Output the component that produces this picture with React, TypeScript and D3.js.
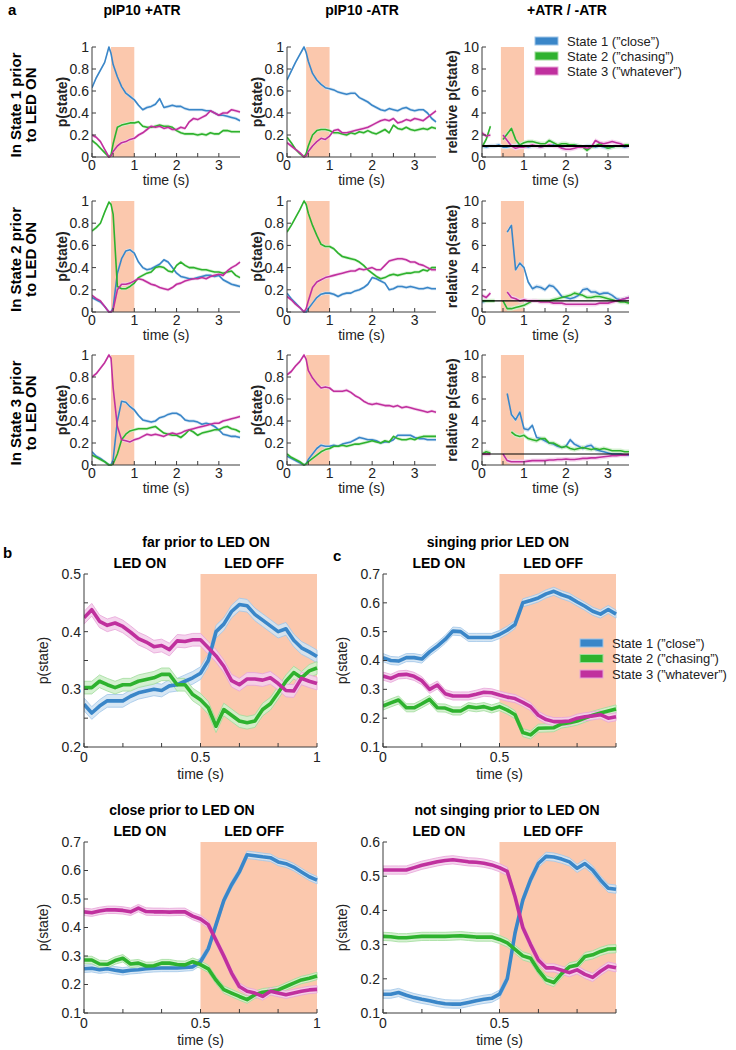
import React from "react";
import * as d3 from "d3";

const FONT = "'Liberation Sans', Arial, Helvetica, sans-serif";
const BLUE = "#3a86c8";
const GREEN = "#2eb22e";
const MAGENTA = "#c0309e";
const BLUE_BAND = "#d3e4f3";
const GREEN_BAND = "#d0efcc";
const MAGENTA_BAND = "#f4d0ec";
const BLUE_EDGE = "#9fc5e8";
const GREEN_EDGE = "#9fdc9a";
const MAGENTA_EDGE = "#e7a3d8";
const SHADE = "#fbc8ad";
const AXIS = "#3c3c3c";

const STATE_NAMES = [
  "State 1 (\u201Dclose\u201D)",
  "State 2 (\u201Dchasing\u201D)",
  "State 3 (\u201Dwhatever\u201D)",
];

// ---------- panel a : time grid (s) ----------
const T_A = [0, 0.1, 0.2, 0.3, 0.4, 0.45, 0.5, 0.6, 0.7, 0.8, 0.9, 1.0, 1.1, 1.2, 1.3, 1.4, 1.5, 1.6, 1.7, 1.8, 1.9, 2.0, 2.1, 2.2, 2.3, 2.4, 2.5, 2.6, 2.7, 2.8, 2.9, 3.0, 3.1, 3.2, 3.3, 3.4, 3.5];

// Row 1: in State 1 prior to LED ON
const B1P = [0.63,0.72,0.79,0.86,1.0,0.94,0.84,0.73,0.64,0.58,0.55,0.52,0.47,0.43,0.45,0.46,0.48,0.53,0.45,0.46,0.47,0.46,0.46,0.44,0.43,0.43,0.43,0.43,0.42,0.42,0.40,0.38,0.38,0.37,0.36,0.35,0.33];
const G1P = [0.15,0.12,0.08,0.04,0.0,0.02,0.12,0.27,0.29,0.30,0.31,0.31,0.32,0.28,0.27,0.27,0.28,0.29,0.28,0.28,0.27,0.24,0.22,0.21,0.21,0.21,0.20,0.21,0.20,0.22,0.21,0.21,0.24,0.24,0.23,0.23,0.23];
const M1P = [0.2,0.18,0.14,0.07,0.0,0.01,0.05,0.10,0.13,0.14,0.16,0.17,0.20,0.22,0.25,0.28,0.27,0.28,0.26,0.27,0.25,0.25,0.27,0.26,0.32,0.35,0.34,0.36,0.38,0.42,0.40,0.38,0.40,0.40,0.43,0.42,0.41];
const B1M = [0.70,0.78,0.86,0.93,1.0,0.95,0.87,0.76,0.70,0.66,0.63,0.62,0.61,0.59,0.58,0.57,0.58,0.58,0.54,0.52,0.50,0.47,0.45,0.43,0.42,0.44,0.43,0.42,0.44,0.45,0.43,0.42,0.43,0.43,0.40,0.35,0.32];
const G1M = [0.18,0.13,0.07,0.03,0.0,0.03,0.10,0.20,0.24,0.25,0.25,0.24,0.22,0.22,0.21,0.20,0.22,0.21,0.23,0.22,0.24,0.22,0.21,0.23,0.25,0.22,0.29,0.26,0.25,0.27,0.25,0.24,0.25,0.26,0.25,0.27,0.26];
const M1M = [0.13,0.10,0.07,0.04,0.0,0.01,0.05,0.10,0.14,0.17,0.16,0.19,0.24,0.25,0.22,0.22,0.23,0.24,0.25,0.26,0.27,0.29,0.31,0.33,0.34,0.33,0.35,0.31,0.32,0.34,0.33,0.35,0.34,0.33,0.36,0.39,0.42];
const B1R = [1.0,0.9,1.0,1.0,1.1,1.0,0.9,0.9,1.0,1.0,1.1,1.0,0.9,1.0,1.0,0.9,1.0,1.0,1.1,1.0,0.9,1.0,1.0,1.1,1.0,0.9,1.0,1.0,0.9,1.0,0.9,0.8,0.9,1.0,1.0,0.9,1.0];
const G1R = [0.9,1.6,2.8,null,null,null,1.6,2.1,2.6,1.6,1.1,1.3,1.4,1.4,1.3,1.2,1.2,1.5,1.3,1.1,1.2,1.2,1.1,1.1,1.0,0.9,0.6,0.9,1.0,1.2,1.0,0.8,0.9,1.0,1.0,1.1,1.1];
const M1R = [2.2,1.9,2.0,null,null,null,2.0,1.5,1.0,0.8,0.9,0.9,1.0,1.1,1.0,0.9,1.0,1.1,1.0,1.0,0.8,0.7,0.7,0.8,0.9,0.9,0.8,0.9,1.5,1.3,1.2,1.3,1.4,1.3,1.2,1.0,1.0];

// Row 2: in State 2 prior to LED ON
const B2P = [0.13,0.11,0.09,0.05,0.0,0.0,0.04,0.35,0.48,0.55,0.56,0.53,0.45,0.40,0.38,0.39,0.41,0.43,0.47,0.45,0.40,0.35,0.32,0.31,0.30,0.30,0.31,0.32,0.33,0.33,0.32,0.33,0.29,0.27,0.25,0.24,0.23];
const G2P = [0.73,0.76,0.80,0.90,0.99,0.97,0.88,0.23,0.21,0.21,0.23,0.26,0.31,0.33,0.35,0.36,0.40,0.41,0.40,0.37,0.36,0.42,0.45,0.42,0.40,0.40,0.39,0.38,0.38,0.37,0.36,0.36,0.35,0.36,0.37,0.33,0.31];
const M2P = [0.15,0.12,0.10,0.05,0.0,0.0,0.02,0.20,0.25,0.25,0.26,0.28,0.30,0.29,0.27,0.25,0.24,0.22,0.21,0.20,0.22,0.25,0.26,0.28,0.29,0.30,0.30,0.31,0.30,0.32,0.33,0.34,0.33,0.37,0.40,0.42,0.45];
const B2M = [0.17,0.12,0.08,0.04,0.0,0.0,0.03,0.08,0.13,0.16,0.17,0.17,0.16,0.14,0.16,0.17,0.17,0.19,0.20,0.22,0.25,0.31,0.30,0.28,0.26,0.20,0.21,0.23,0.23,0.22,0.23,0.22,0.21,0.21,0.22,0.21,0.21];
const G2M = [0.72,0.78,0.85,0.92,1.0,0.97,0.89,0.78,0.69,0.61,0.59,0.59,0.57,0.53,0.50,0.49,0.48,0.47,0.45,0.42,0.38,0.35,0.32,0.30,0.31,0.33,0.34,0.33,0.34,0.35,0.35,0.36,0.36,0.38,0.37,0.40,0.40];
const M2M = [0.14,0.11,0.07,0.04,0.0,0.03,0.10,0.22,0.27,0.29,0.31,0.32,0.33,0.34,0.35,0.36,0.37,0.37,0.39,0.38,0.39,0.40,0.38,0.38,0.42,0.46,0.47,0.48,0.48,0.47,0.45,0.45,0.43,0.42,0.40,0.38,0.38];
const B2R = [0.9,1.0,null,null,null,null,null,7.2,7.8,3.8,4.4,4.0,2.7,2.1,2.3,2.2,2.0,2.4,2.3,1.9,1.4,1.3,1.2,1.3,1.5,2.0,2.1,1.8,1.8,1.6,1.7,1.7,1.5,1.2,1.1,1.2,1.3];
const G2R = [1.0,1.0,1.0,1.0,null,null,1.0,0.3,0.3,0.4,0.5,0.6,0.8,1.0,1.0,1.0,1.0,1.0,1.1,1.2,1.3,1.4,1.5,1.7,1.6,1.5,1.3,1.3,1.4,1.4,1.3,1.2,1.1,1.0,0.9,0.9,0.8];
const M2R = [1.5,1.3,1.7,null,null,null,null,1.8,1.3,1.2,1.0,1.1,1.0,1.0,1.0,0.9,0.9,0.9,0.8,0.8,0.8,0.7,0.7,0.7,0.7,0.7,0.7,0.7,0.7,0.8,0.8,0.8,0.9,1.0,1.1,1.2,1.3];

// Row 3: in State 3 prior to LED ON
const B3P = [0.12,0.08,0.06,0.03,0.0,0.0,0.05,0.40,0.58,0.57,0.53,0.50,0.45,0.41,0.40,0.39,0.40,0.43,0.44,0.46,0.47,0.47,0.45,0.41,0.40,0.40,0.39,0.37,0.38,0.37,0.35,0.32,0.28,0.27,0.26,0.26,0.25];
const G3P = [0.09,0.07,0.05,0.03,0.0,0.0,0.01,0.10,0.23,0.28,0.31,0.32,0.33,0.33,0.33,0.34,0.35,0.32,0.29,0.28,0.27,0.27,0.25,0.28,0.32,0.30,0.27,0.29,0.30,0.31,0.32,0.32,0.34,0.35,0.33,0.32,0.30];
const M3P = [0.80,0.83,0.88,0.93,1.0,0.97,0.70,0.35,0.23,0.22,0.21,0.23,0.24,0.26,0.28,0.27,0.28,0.27,0.26,0.28,0.29,0.28,0.29,0.31,0.32,0.33,0.34,0.35,0.36,0.37,0.38,0.38,0.40,0.41,0.42,0.43,0.44];
const B3M = [0.08,0.06,0.04,0.02,0.0,0.01,0.05,0.10,0.15,0.18,0.17,0.17,0.18,0.17,0.19,0.20,0.21,0.23,0.25,0.24,0.23,0.23,0.22,0.20,0.21,0.21,0.23,0.27,0.27,0.27,0.27,0.25,0.24,0.24,0.23,0.23,0.23];
const G3M = [0.10,0.07,0.05,0.03,0.0,0.01,0.03,0.06,0.09,0.12,0.14,0.15,0.17,0.17,0.18,0.17,0.18,0.19,0.19,0.20,0.21,0.22,0.21,0.20,0.22,0.21,0.26,0.24,0.23,0.23,0.24,0.23,0.25,0.26,0.26,0.26,0.26];
const M3M = [0.82,0.85,0.90,0.94,1.0,0.96,0.86,0.79,0.74,0.70,0.71,0.70,0.67,0.67,0.67,0.68,0.66,0.63,0.61,0.58,0.56,0.55,0.56,0.55,0.54,0.54,0.53,0.54,0.52,0.53,0.52,0.51,0.50,0.49,0.48,0.49,0.48];
const B3R = [null,null,null,null,null,null,null,6.5,4.6,4.1,4.8,3.3,3.2,3.6,2.5,2.4,2.2,2.0,1.9,1.7,1.6,1.7,2.3,1.9,1.7,1.5,1.7,1.8,1.4,1.3,1.2,1.1,1.0,1.0,1.0,0.9,0.9];
const G3R = [1.0,1.2,1.1,null,null,null,null,null,3.0,2.7,2.6,2.7,2.4,2.3,2.2,2.4,2.4,2.0,2.0,1.8,1.6,1.7,1.5,1.4,1.5,1.6,1.5,1.4,1.5,1.4,1.5,1.4,1.3,1.3,1.3,1.2,1.2];
const M3R = [1.0,1.0,1.0,null,null,null,1.0,0.4,0.3,0.3,0.3,0.3,0.35,0.4,0.4,0.4,0.4,0.45,0.45,0.5,0.5,0.55,0.5,0.5,0.55,0.6,0.6,0.65,0.65,0.7,0.75,0.8,0.85,0.85,0.9,0.9,0.95];

const A_ROW_LABELS = [
  ["In State 1 prior", "to LED ON"],
  ["In State 2 prior", "to LED ON"],
  ["In State 3 prior", "to LED ON"],
];
const A_COL_TITLES = ["pIP10 +ATR", "pIP10 -ATR", "+ATR / -ATR"];
const A_DATA = [
  [[B1P, G1P, M1P], [B1M, G1M, M1M], [B1R, G1R, M1R]],
  [[B2P, G2P, M2P], [B2M, G2M, M2M], [B2R, G2R, M2R]],
  [[B3P, G3P, M3P], [B3M, G3M, M3M], [B3R, G3R, M3R]],
];
const A_XTICKS = [0, 0.5, 1, 1.5, 2, 2.5, 3];
const A_XLABELS = [0, 1, 2, 3];
const A_YTICKS_P = [0, 0.2, 0.4, 0.6, 0.8, 1];
const A_YTICKS_R = [0, 2, 4, 6, 8, 10];
const A_LED = [0.45, 1.0];

// ---------- panels b and c : time grid (s) ----------
const T_B = d3.range(31).map((i) => i / 30);

const BT_B = [0.274,0.259,0.271,0.28,0.28,0.28,0.288,0.294,0.297,0.30,0.298,0.306,0.308,0.314,0.32,0.328,0.35,0.40,0.413,0.435,0.447,0.445,0.43,0.42,0.41,0.40,0.405,0.385,0.372,0.365,0.357];
const BT_G = [0.303,0.303,0.314,0.308,0.303,0.308,0.308,0.314,0.317,0.32,0.326,0.326,0.308,0.308,0.291,0.282,0.268,0.236,0.265,0.255,0.245,0.242,0.245,0.265,0.275,0.294,0.314,0.329,0.32,0.332,0.337];
const BT_M = [0.424,0.438,0.418,0.411,0.415,0.409,0.399,0.388,0.382,0.374,0.376,0.369,0.384,0.383,0.386,0.386,0.372,0.358,0.34,0.315,0.308,0.318,0.318,0.316,0.32,0.31,0.298,0.297,0.319,0.314,0.31];

const BB_B = [0.255,0.257,0.252,0.255,0.250,0.246,0.250,0.252,0.255,0.257,0.258,0.258,0.258,0.260,0.262,0.28,0.325,0.41,0.495,0.55,0.595,0.655,0.652,0.648,0.645,0.63,0.624,0.612,0.595,0.578,0.566];
const BB_G = [0.286,0.286,0.272,0.271,0.284,0.292,0.272,0.275,0.265,0.266,0.275,0.275,0.27,0.269,0.28,0.27,0.255,0.215,0.182,0.17,0.158,0.147,0.164,0.173,0.176,0.181,0.193,0.205,0.216,0.222,0.23];
const BB_M = [0.455,0.452,0.458,0.462,0.462,0.460,0.455,0.468,0.456,0.455,0.455,0.454,0.455,0.455,0.44,0.43,0.41,0.355,0.30,0.24,0.193,0.176,0.17,0.158,0.176,0.17,0.164,0.17,0.176,0.181,0.183];

const CT_B = [0.41,0.40,0.398,0.41,0.41,0.405,0.43,0.45,0.473,0.502,0.50,0.48,0.48,0.48,0.48,0.49,0.505,0.525,0.60,0.608,0.617,0.631,0.64,0.628,0.619,0.603,0.588,0.571,0.561,0.577,0.561];
const CT_G = [0.242,0.253,0.263,0.236,0.236,0.25,0.265,0.236,0.235,0.225,0.225,0.24,0.236,0.24,0.232,0.24,0.228,0.212,0.15,0.142,0.165,0.166,0.167,0.18,0.184,0.19,0.2,0.21,0.218,0.225,0.232];
const CT_M = [0.346,0.338,0.35,0.352,0.345,0.33,0.30,0.315,0.285,0.277,0.277,0.277,0.283,0.29,0.288,0.28,0.273,0.268,0.255,0.24,0.21,0.195,0.188,0.188,0.19,0.2,0.205,0.208,0.212,0.2,0.205];

const CB_B = [0.155,0.155,0.16,0.152,0.145,0.14,0.136,0.131,0.127,0.126,0.126,0.131,0.136,0.14,0.143,0.155,0.2,0.334,0.43,0.49,0.537,0.558,0.556,0.55,0.542,0.523,0.537,0.518,0.489,0.465,0.462];
const CB_G = [0.324,0.323,0.32,0.32,0.322,0.324,0.324,0.324,0.324,0.325,0.326,0.324,0.322,0.322,0.322,0.315,0.305,0.286,0.267,0.26,0.225,0.197,0.189,0.215,0.235,0.24,0.265,0.27,0.28,0.287,0.288];
const CB_M = [0.518,0.518,0.518,0.518,0.525,0.532,0.537,0.542,0.546,0.548,0.545,0.542,0.541,0.538,0.533,0.525,0.514,0.44,0.35,0.30,0.255,0.232,0.232,0.225,0.218,0.226,0.213,0.204,0.222,0.237,0.232];

const BC_XTICKS = [0, 0.167, 0.333, 0.5, 0.667, 0.833, 1];
const BC_LED = [0.5, 1.0];

const COLORS = [BLUE, GREEN, MAGENTA];
const BANDS = [BLUE_BAND, GREEN_BAND, MAGENTA_BAND];
const EDGES = [BLUE_EDGE, GREEN_EDGE, MAGENTA_EDGE];

const fmt = (v: number) => String(+v.toFixed(3));

type PanelProps = {
  id: string;
  left: number; right: number; top: number; bottom: number;
  xDomain: [number, number]; yDomain: [number, number];
  t: number[];
  values: (number | null)[][];
  half: number;
  lineWidth: number;
  bandEdge: boolean;
  shade: number[];
  xTicks: number[]; xLabels: number[];
  yTicks: number[]; yLabels: number[];
  yLabel: string; yLabelBold: boolean; yLabelDx: number;
  xTickDy: number; xLabelDy: number;
  hline?: number; hlineWidth?: number;
  fontSize: number;
};

function Panel(p: PanelProps) {
  const x = d3.scaleLinear().domain(p.xDomain).range([p.left, p.right]);
  const y = d3.scaleLinear().domain(p.yDomain).range([p.bottom, p.top]);
  const line = d3.line<any>().defined((d: any) => d.v != null).x((d: any) => x(d.t)).y((d: any) => y(d.v));
  const area = d3.area<any>().defined((d: any) => d.v != null).x((d: any) => x(d.t))
    .y0((d: any) => y(d.v - p.half)).y1((d: any) => y(d.v + p.half));
  const pts = (vals: (number | null)[]) => p.t.map((t, i) => ({ t, v: vals[i] }));
  const tl = 4;
  return (
    <g>
      <defs>
        <clipPath id={p.id}>
          <rect x={p.left} y={p.top - 3} width={p.right - p.left + 2} height={p.bottom - p.top + 4} />
        </clipPath>
      </defs>
      <rect x={x(p.shade[0])} y={p.top} width={x(p.shade[1]) - x(p.shade[0])} height={p.bottom - p.top} fill={SHADE} />
      <g clipPath={`url(#${p.id})`}>
        {p.values.map((v, i) => (
          <path key={"b" + i} d={area(pts(v)) || ""} fill={BANDS[i]} fillOpacity={0.9}
            stroke={p.bandEdge ? EDGES[i] : "none"} strokeWidth={0.8} />
        ))}
        {p.values.map((v, i) => (
          <path key={"l" + i} d={line(pts(v)) || ""} fill="none" stroke={COLORS[i]}
            strokeWidth={p.lineWidth} strokeLinejoin="round" strokeLinecap="butt" />
        ))}
        {p.hline != null && (
          <line x1={p.left} x2={p.right} y1={y(p.hline)} y2={y(p.hline)} stroke="#000" strokeWidth={p.hlineWidth || 1} />
        )}
      </g>
      <line x1={p.left} x2={p.left} y1={p.top} y2={p.bottom} stroke={AXIS} strokeWidth={1} />
      <line x1={p.left} x2={p.right} y1={p.bottom} y2={p.bottom} stroke={AXIS} strokeWidth={1} />
      {p.yTicks.map((v) => (
        <line key={"yt" + v} x1={p.left} x2={p.left + tl} y1={y(v)} y2={y(v)} stroke={AXIS} />
      ))}
      {p.xTicks.map((v) => (
        <line key={"xt" + v} x1={x(v)} x2={x(v)} y1={p.bottom} y2={p.bottom - tl} stroke={AXIS} />
      ))}
      {p.yLabels.map((v) => (
        <text key={"yl" + v} x={p.left - 3} y={y(v)} dy="0.35em" textAnchor="end" fontSize={p.fontSize} fill="#222">{fmt(v)}</text>
      ))}
      {p.xLabels.map((v) => (
        <text key={"xl" + v} x={x(v)} y={p.bottom + p.xTickDy} textAnchor="middle" fontSize={p.fontSize} fill="#222">{fmt(v)}</text>
      ))}
      <text x={(p.left + p.right) / 2} y={p.bottom + p.xLabelDy} textAnchor="middle" fontSize={p.fontSize} fill="#222">time (s)</text>
      <text transform={`translate(${p.left - p.yLabelDx},${(p.top + p.bottom) / 2}) rotate(-90)`} textAnchor="middle"
        fontSize={p.fontSize} fontWeight={p.yLabelBold ? "bold" : "normal"} fill="#222">{p.yLabel}</text>
    </g>
  );
}

function Legend({ x, y, gap, fontSize }: { x: number; y: number; gap: number; fontSize: number }) {
  return (
    <g>
      {STATE_NAMES.map((name, i) => (
        <g key={name}>
          <rect x={x} y={y + i * gap - 4} width={23} height={8} fill={COLORS[i]} stroke={EDGES[i]} strokeWidth={1} />
          <text x={x + 32} y={y + i * gap} dy="0.35em" fontSize={fontSize} fill="#222">{name}</text>
        </g>
      ))}
    </g>
  );
}

const A_COLS = [
  { left: 92, right: 240, title: 142 },
  { left: 287, right: 436, title: 362 },
  { left: 482, right: 629, title: 567 },
];
const A_ROWS = [
  { top: 47, bottom: 157 },
  { top: 201, bottom: 312 },
  { top: 355, bottom: 465 },
];

const BC_PANELS = [
  { id: "bt", left: 84, right: 317, top: 574, bottom: 747, yDomain: [0.2, 0.5], yTicks: [0.2, 0.25, 0.3, 0.35, 0.4, 0.45, 0.5], yLabels: [0.2, 0.3, 0.4, 0.5], xLabels: [0, 0.5, 1], vals: [BT_B, BT_G, BT_M], half: 0.011, title: "far prior to LED ON", titleX: 206 },
  { id: "ct", left: 383, right: 616, top: 574, bottom: 747, yDomain: [0.1, 0.7], yTicks: [0.1, 0.2, 0.3, 0.4, 0.5, 0.6, 0.7], yLabels: [0.1, 0.2, 0.3, 0.4, 0.5, 0.6, 0.7], xLabels: [0, 0.5], vals: [CT_B, CT_G, CT_M], half: 0.014, title: "singing prior LED ON", titleX: 498 },
  { id: "bb", left: 84, right: 317, top: 842, bottom: 1013, yDomain: [0.1, 0.7], yTicks: [0.1, 0.2, 0.3, 0.4, 0.5, 0.6, 0.7], yLabels: [0.1, 0.2, 0.3, 0.4, 0.5, 0.6, 0.7], xLabels: [0, 0.5, 1], vals: [BB_B, BB_G, BB_M], half: 0.013, title: "close prior to LED ON", titleX: 182 },
  { id: "cb", left: 383, right: 616, top: 842, bottom: 1013, yDomain: [0.1, 0.6], yTicks: [0.1, 0.2, 0.3, 0.4, 0.5, 0.6], yLabels: [0.1, 0.2, 0.3, 0.4, 0.5, 0.6], xLabels: [0, 0.5], vals: [CB_B, CB_G, CB_M], half: 0.012, title: "not singing prior to LED ON", titleX: 507 },
];

export default function App() {
  return (
    <svg width={736} height={1050} style={{ position: "absolute", left: 0, top: 0, background: "#fff" }}
      fontFamily={FONT}>
      <text x={8} y={15} fontSize={15} fontWeight="bold">a</text>
      {A_COL_TITLES.map((t, c) => (
        <text key={t} x={A_COLS[c].title} y={15} textAnchor="middle" fontSize={14} fontWeight="bold">{t}</text>
      ))}
      {A_ROWS.map((r, ri) => (
        <g key={"row" + ri}>
          {A_ROW_LABELS[ri].map((s, k) => (
            <text key={s} transform={`translate(${21 + k * 15},${(r.top + r.bottom) / 2 + 3}) rotate(-90)`}
              textAnchor="middle" fontSize={15} fontWeight="bold">{s}</text>
          ))}
          {A_COLS.map((c, ci) => {
            const ratio = ci === 2;
            return (
              <Panel key={"a" + ri + ci} id={`a${ri}${ci}`} left={c.left} right={c.right} top={r.top} bottom={r.bottom}
                xDomain={[0, 3.5]} yDomain={ratio ? [0, 10] : [0, 1]} t={T_A} values={A_DATA[ri][ci]}
                half={ratio ? 0.2 : 0.015} lineWidth={1.6} bandEdge={false} shade={A_LED}
                xTicks={A_XTICKS} xLabels={A_XLABELS}
                yTicks={ratio ? A_YTICKS_R : A_YTICKS_P} yLabels={ratio ? A_YTICKS_R : A_YTICKS_P}
                yLabel={ratio ? "relative p(state)" : "p(state)"} yLabelBold={true} yLabelDx={25}
                xTickDy={13} xLabelDy={28} hline={ratio ? 1 : undefined} hlineWidth={ri === 0 ? 1.8 : 1.1}
                fontSize={14} />
            );
          })}
        </g>
      ))}
      <Legend x={535} y={41} gap={15} fontSize={13} />

      <text x={3} y={558} fontSize={15} fontWeight="bold">b</text>
      <text x={333} y={561} fontSize={15} fontWeight="bold">c</text>
      {BC_PANELS.map((p) => {
        const x = d3.scaleLinear().domain([0, 1]).range([p.left, p.right]);
        return (
          <g key={p.id}>
            <text x={p.titleX} y={p.top - 27} textAnchor="middle" fontSize={14} fontWeight="bold">{p.title}</text>
            <text x={x(0.24)} y={p.top - 6} textAnchor="middle" fontSize={14} fontWeight="bold">LED ON</text>
            <text x={x(0.73)} y={p.top - 6} textAnchor="middle" fontSize={14} fontWeight="bold">LED OFF</text>
            <Panel id={p.id} left={p.left} right={p.right} top={p.top} bottom={p.bottom}
              xDomain={[0, 1]} yDomain={p.yDomain as [number, number]} t={T_B} values={p.vals}
              half={p.half} lineWidth={3.6} bandEdge={true} shade={BC_LED}
              xTicks={BC_XTICKS} xLabels={p.xLabels} yTicks={p.yTicks} yLabels={p.yLabels}
              yLabel="p(state)" yLabelBold={false} yLabelDx={36}
              xTickDy={15} xLabelDy={32} fontSize={14} />
          </g>
        );
      })}
      <Legend x={580} y={643} gap={15.5} fontSize={13} />
    </svg>
  );
}
